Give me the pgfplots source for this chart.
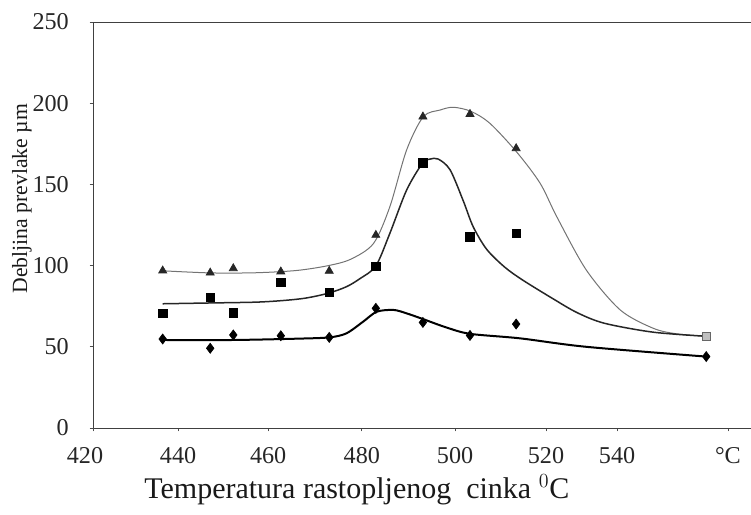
\documentclass[border=0pt]{standalone}
\usepackage{fontspec}
\setmainfont{Liberation Serif}
\usepackage{pgfplots}
\pgfplotsset{compat=1.18}
\begin{document}
\begin{tikzpicture}
\begin{axis}[
  name=ax,
  scale only axis,
  width=394.8pt, height=243.6pt,
  xmin=420, xmax=565.4,
  ymin=0, ymax=250,
  clip=false,
  axis line style={black!75, line width=0.6pt},
  tick style={black!70, line width=0.4pt},
  tick align=outside,
  major tick length=2pt,
  xtick pos=bottom, ytick pos=left,
  xtick={438.8,458.7,479.4,500,520.1,535.8,560.3},
  xticklabels={440,460,480,500,520,540,°C},
  extra x ticks={420},
  extra x tick labels={420},
  extra x tick style={xticklabel style={xshift=-4.8pt}},
  ytick={0,50,100,150,200,250},
  /pgf/number format/assume math mode=true,
  ticklabel style={font=\fontsize{14.5}{16}\selectfont, text=black!85},
  xticklabel style={yshift=-6pt},
  yticklabel style={xshift=-9pt},
]
% triangle trend line (thin, grey)
\addplot[smooth, tension=0.5, black!55, line width=0.6pt] coordinates {
(435.4,96.8) (446,95.5) (456,95.6) (465,97) (472,100) (477,104) (482,113.7)
(485.6,136.3) (489.3,171.2) (493,191.7) (496.7,195.8) (499.6,197.5) (503.5,195)
(507.7,187.6) (513.6,170) (518.8,150.7) (522.5,130) (529,97.3) (536.5,72.7)
(543.8,61.4) (549,58) (555.4,56.5)};
% square trend line
\addplot[smooth, tension=0.5, black!85, line width=0.9pt] coordinates {
(435.4,76.5) (446,77) (456,77.5) (462,78.5) (467,80) (472,83) (476,87) (479,92)
(482.5,99.8) (485.6,119.9) (489.3,146.5) (492.8,163) (494.5,165.6) (496.3,165.6)
(498.9,159) (501.8,140) (504,124) (507,110) (511,99) (515,91) (521.7,79.5)
(527,71) (533,64.5) (543.8,59) (555.4,56.5)};
% diamond trend line
\addplot[smooth, tension=0.5, black, line width=1.2pt] coordinates {
(435.4,54.2) (451,54.2) (465,55) (472.2,55.8) (476,58.3) (479.7,65.5) (482.7,71.6)
(486.4,72.7) (489.3,70.6) (493,67) (498,62) (503.3,58) (514.4,55.2) (529,50) (555.4,44)};
% markers
\addplot[only marks, mark=triangle*, mark size=2.8pt, black!85] coordinates {
(435.4,96.9) (445.9,95.6) (451,98.3) (461.5,96.3) (472.2,96.7) (482.5,118.8)
(492.9,191.7) (503.3,193.3) (513.5,172.2)};
\addplot[only marks, mark=square*, mark size=2.5pt, black] coordinates {
(435.4,70.6) (445.9,80.5) (451,71) (461.5,89.5) (472.2,83.6) (482.5,99.6)
(492.9,163.2) (503.3,117.8) (513.5,119.9)};
\addplot[only marks, mark=square*, mark size=2.3pt, draw=black!60, fill=black!25] coordinates {
(555.5,56.5)};
\addplot[only marks, mark=diamond*, mark size=3pt, black] coordinates {
(435.4,54.8) (445.9,49.1) (451,57.3) (461.5,56.8) (472.2,55.8) (482.5,73.7)
(492.9,65) (503.3,57) (513.5,64) (555.5,44)};
\node[font=\fontsize{18}{20}\selectfont, text=black!90] at (rel axis cs:0.401,0) [yshift=-37.2pt] {Temperatura rastopljenog\ \ cinka $^{0}$C};
\node[xshift=-42.6pt, rotate=90, font=\fontsize{13}{15}\selectfont, text=black!90] at (rel axis cs:0,0.565) {Debljina prevlake µm};
\end{axis}
\pgfresetboundingbox
\path[use as bounding box] ([shift={(-55.8pt,-51.6pt)}]ax.south west) rectangle ([shift={(0pt,13.2pt)}]ax.north east);
\end{tikzpicture}
\end{document}
